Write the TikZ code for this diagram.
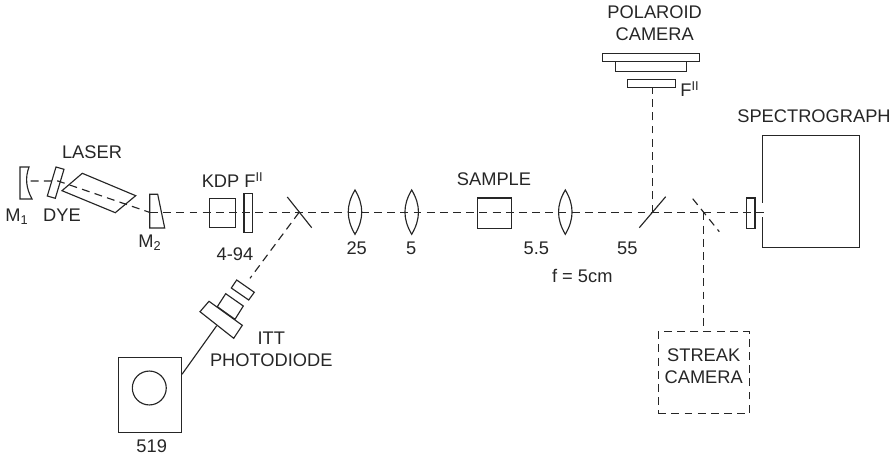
\documentclass[tikz,border=0pt]{standalone}
\usepackage{fontspec}
\setmainfont{Liberation Sans}
\usetikzlibrary{positioning}
\tikzset{
  lbl/.style={inner sep=0pt, font=\fontsize{10.4}{12.4}\selectfont, text=black!85, align=center},
  part/.style={draw=black!85, line width=0.65pt, inner sep=0pt},
  beam/.style={draw=black!85, line width=0.65pt, dash pattern=on 4.5pt off 3pt},
  wire/.style={draw=black!85, line width=0.65pt}
}
\begin{document}
\begin{tikzpicture}[x=0.02cm, y=-0.02cm]
  \useasboundingbox (0,0) rectangle (896,459);

  % beam path anchors
  \coordinate (m1f) at (30.7,181);
  \coordinate (dyec) at (58,181);
  \coordinate (m2f) at (150,212.5);
  \coordinate (bs) at (299,212.5);
  \coordinate (pol) at (652.3,212.5);
  \coordinate (sp) at (703.7,212.5);
  \coordinate (slit) at (767.7,212.5);
  \coordinate (pd) at (250,278.3);

  % beams
  \draw[beam] (m1f) -- (dyec) -- (m2f);
  \draw[beam] (m2f) -- (bs) -- (slit);
  \draw[beam] (bs) -- (pd);

  % cavity
  \draw[wire] (20,167) -- (29,167) .. controls (25,178) and (26,188) .. (32,199) -- (20,199) -- cycle;
  \draw[wire] (56,167) -- (64,169.3) -- (55.3,198.3) -- (47.3,196) -- cycle;
  \draw[wire] (82.3,173.3) -- (135.7,195.7) -- (115.3,212.7) -- (62,190.7) -- cycle;
  \draw[wire] (149.7,194.3) -- (157.7,194.3) -- (164.7,228) -- (149.7,228) -- cycle;

  % boxes on the axis
  \draw[wire] (209.7,198.7) rectangle (235.3,227.3);
  \draw[wire] (244,193.7) rectangle (252.7,232.3);
  \draw[wire] (477.3,198) rectangle (511.7,228.3);
  \draw[wire] (746.7,198) rectangle (755,228.7);

  % lenses
  \foreach \lx in {355,411.7,565.3} {
    \draw[wire] (\lx,190) .. controls (\lx-9,205) and (\lx-9,219) .. (\lx,234.3)
      .. controls (\lx+9,219) and (\lx+9,205) .. (\lx,190) -- cycle;
  }

  % splitters
  \draw[wire] (287.3,197) -- (311.7,227.7);
  \draw[wire] (639.3,227.7) -- (665.7,196.7);
  \draw[beam] (692.7,198.7) -- (719.3,231.7);

  % polaroid
  \node[part, minimum width=27.4pt, minimum height=4.5pt] (filt) at (651.85,83.7) {};
  \node[part, minimum width=40.4pt, minimum height=5.7pt] (back) at (650.65,66.7) {};
  \node[part, minimum width=55.2pt, minimum height=4.8pt] (film) at (651,57.5) {};
  \draw[beam] (pol) -- (filt.south -| pol);

  % spectrograph
  \draw[wire] (762.7,202.7) -- (762.7,135.7) -- (859.3,135.7) -- (859.3,247.3) -- (762.7,247.3) -- (762.7,216.7);

  % streak
  \node[part, dash pattern=on 4.5pt off 3pt, minimum width=51.8pt, minimum height=46.7pt] (streak) at (703.7,372.8) {};
  \node[lbl] (streaktxt) at (703.7,366) {STREAK\\CAMERA};
  \draw[beam] (sp) -- (streak.north -| sp);

  % photodiode
  \draw[wire] (236.7,280) -- (254.3,292.3) -- (248.7,300) -- (231.3,288) -- cycle;
  \draw[wire] (225.7,293.7) -- (243.3,306) -- (235,319.3) -- (217.3,306.7) -- cycle;
  \draw[wire] (209,301.3) -- (242.3,325.3) -- (233.7,338.3) -- (200,311.7) -- cycle;
  \node[part, minimum width=36pt, minimum height=42.3pt] (scope519) at (149.85,395) {};
  \node[part, circle, minimum size=19.3pt] (dial) at (149.3,388) {};
  \coordinate (flange) at (216.7,325.7);
  \draw[wire] (flange) -- (182,374.3);

  % labels
  \node[lbl] (laser) at (92,152) {LASER};
  \node[lbl] (mone) at (17,217) {M\textsubscript{1}};
  \node[lbl] (dye) at (62,215.3) {DYE};
  \node[lbl] (mtwo) at (150,243) {M\textsubscript{2}};
  \node[lbl] (kdp) at (232.7,180) {KDP F\textsuperscript{II}};
  \node[lbl] (cutoff) at (235,254) {4-94};
  \node[lbl] (l25) at (356.7,248.3) {25};
  \node[lbl] (l5) at (411.3,248.3) {5};
  \node[lbl] (sample) at (494,179) {SAMPLE};
  \node[lbl] (l55a) at (536.3,248) {5.5};
  \node[lbl] (l55b) at (627.3,248) {55};
  \node[lbl] (focal) at (582.3,276) {f = 5cm};
  \node[lbl] (polaroid) at (654.7,23.5) {POLAROID\\CAMERA};
  \node[lbl] (fpol) at (690,89) {F\textsuperscript{II}};
  \node[lbl] (spec) at (814,116) {SPECTROGRAPH};
  \node[lbl] (itt) at (271.3,349) {ITT\\PHOTODIODE};
  \node[lbl] (n519) at (151.7,446.7) {519};
\end{tikzpicture}
\end{document}
